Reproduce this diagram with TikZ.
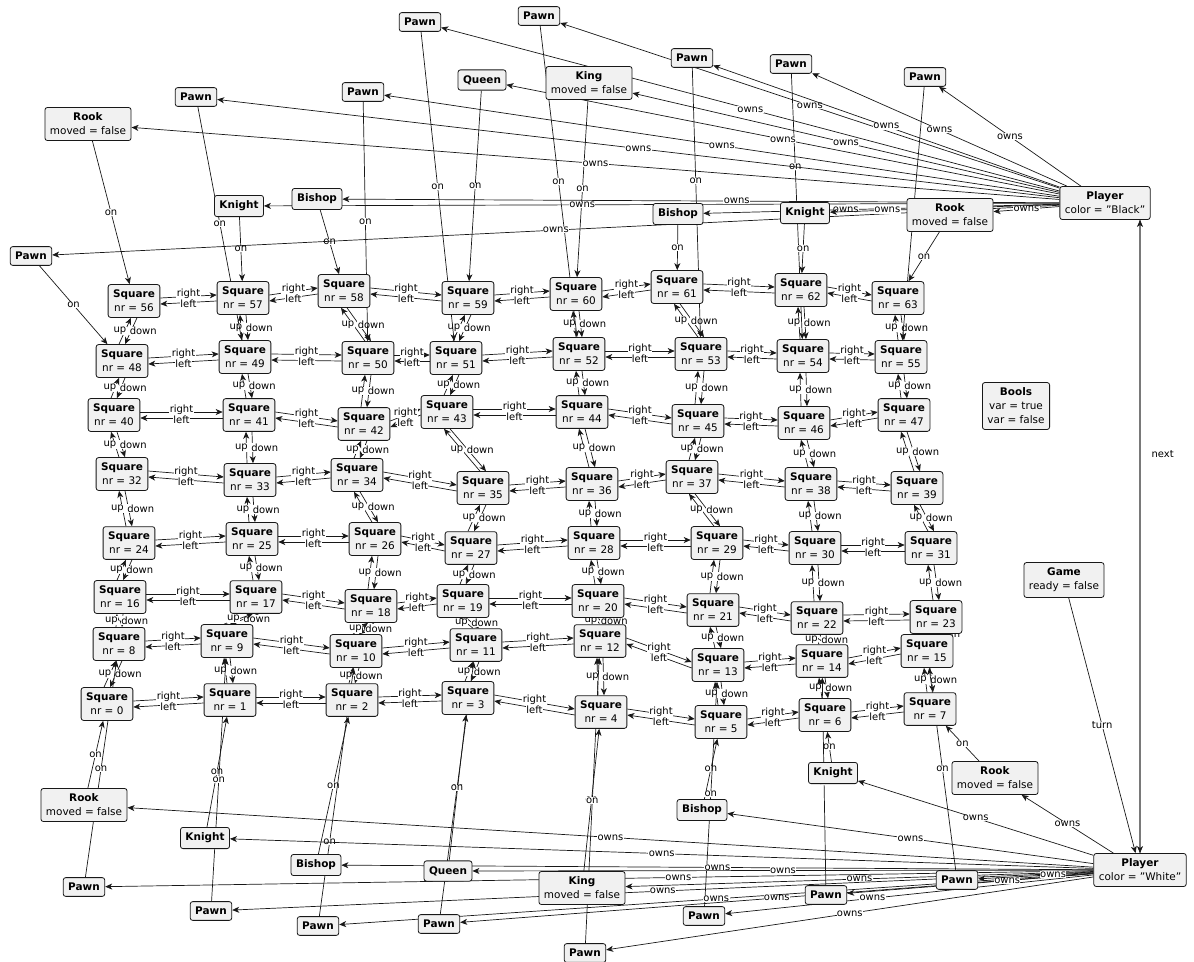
\documentclass[tikz,border=0pt]{standalone}
\usepackage{fontspec}
\setmainfont{DejaVu Sans}
\usetikzlibrary{arrows.meta}

\pgfdeclarelayer{bg}
\pgfsetlayers{bg,main}

\definecolor{boxfill}{HTML}{F1F1F1}
\definecolor{boxline}{HTML}{181818}

\tikzset{
    obj/.style={draw=boxline, fill=boxfill, rounded corners=2.5bp, align=center,
        inner xsep=5bp, inner ysep=5.5bp, line width=0.8bp,
        font=\fontsize{10.5}{14}\selectfont},
    link/.style={draw=boxline, line width=0.7bp, -{Stealth[length=7bp,width=6bp,inset=2bp]}},
    lbl/.style={fill=white, inner sep=0.4bp, font=\fontsize{10}{10}\selectfont},
}

\begin{document}
\begin{tikzpicture}[x=1bp, y=-1bp]
    \useasboundingbox (0,0) rectangle (1194,962);

    % Draw squares
    \foreach \n/\x/\y in {0/107/704, 1/230/700, 2/352/700, 3/468/698, 4/601/712, 5/721/722, 6/825/715, 7/930/709,
        8/119/644, 9/227/641, 10/356/651, 11/476/645, 12/600/641, 13/718/665, 14/822/661, 15/927/651,
        16/120/597, 17/256/597, 18/371/606, 19/463/601, 20/598/601, 21/713/610, 22/817/618, 23/936/617,
        24/129/543, 25/252/539, 26/375/539, 27/471/548, 28/594/543, 29/717/543, 30/815/548, 31/931/548,
        32/122/474, 33/250/480, 34/357/475, 35/483/488, 36/592/484, 37/692/477, 38/811/484, 39/917/488,
        40/114/415, 41/249/415, 42/364/424, 43/447/412, 44/582/412, 45/698/421, 46/804/423, 47/904/415,
        48/122/361, 49/245/357, 50/368/358, 51/456/358, 52/579/354, 53/701/354, 54/803/356, 55/901/357,
        56/134/301, 57/243/298, 58/344/291, 59/468/298, 60/576/294, 61/677/287, 62/801/290, 63/898/298}
        \node[obj] (s\n) at (\x,\y) {\textbf{Square}\\nr = \n};

    % Draw black pieces
    \node[obj] (p56) at (88,124) {\textbf{Rook}\\moved = false};
    \node[obj] (p57) at (239,206) {\textbf{Knight}};
    \node[obj] (p58) at (317,199) {\textbf{Bishop}};
    \node[obj] (p59) at (482,80) {\textbf{Queen}};
    \node[obj] (p60) at (589,83) {\textbf{King}\\moved = false};
    \node[obj] (p61) at (678,214) {\textbf{Bishop}};
    \node[obj] (p62) at (805,213) {\textbf{Knight}};
    \node[obj] (p63) at (950,215) {\textbf{Rook}\\moved = false};
    \foreach \n/\x/\y in {48/31/256, 49/196/97, 50/363/92, 51/420/22, 52/539/16, 53/692/58, 54/791/64, 55/925/77}
        \node[obj] (p\n) at (\x,\y) {\textbf{Pawn}};

    % Draw white pieces
    \node[obj] (p0) at (84,805) {\textbf{Rook}\\moved = false};
    \node[obj] (p1) at (205,838) {\textbf{Knight}};
    \node[obj] (p2) at (316,865) {\textbf{Bishop}};
    \node[obj] (p3) at (448,871) {\textbf{Queen}};
    \node[obj] (p4) at (582,888) {\textbf{King}\\moved = false};
    \node[obj] (p5) at (702,810) {\textbf{Bishop}};
    \node[obj] (p6) at (833,773) {\textbf{Knight}};
    \node[obj] (p7) at (995,778) {\textbf{Rook}\\moved = false};
    \foreach \n/\x/\y in {8/84/887, 9/211/911, 10/318/926, 11/439/924, 12/585/953, 13/704/916, 14/826/895, 15/957/880}
        \node[obj] (p\n) at (\x,\y) {\textbf{Pawn}};

    % Players and game
    \node[obj] (pb) at (1105,203) {\textbf{Player}\\color = \symbol{34}Black\symbol{34}};
    \node[obj] (pw) at (1140,870) {\textbf{Player}\\color = \symbol{34}White\symbol{34}};
    \node[obj] (game) at (1064,580) {\textbf{Game}\\ready = false};
    \node[obj] (bools) at (1016,406) {\textbf{Bools}\\var = true\\var = false};

    \begin{pgfonlayer}{bg}
    % Draw connections: right / left
    \foreach \r in {0,8,...,56}
        \foreach \c in {0,...,6} {
            \pgfmathtruncatemacro\a{\r+\c}
            \pgfmathtruncatemacro\b{\r+\c+1}
            \draw[link] ([yshift=-3bp]s\b.west) -- node[lbl, below=-3bp] {left} ([yshift=-3bp]s\a.east);
            \draw[link] ([yshift=3bp]s\a.east) -- node[lbl, above=-3bp] {right} ([yshift=3bp]s\b.west);
        }
    % up / down
    \foreach \a in {0,...,55} {
        \pgfmathtruncatemacro\b{\a+8}
        \draw[link] ([xshift=3bp]s\b.south) -- node[lbl, right=-2bp] {down} ([xshift=3bp]s\a.north);
        \draw[link] ([xshift=-3bp]s\a.north) -- node[lbl, left=-2bp] {up} ([xshift=-3bp]s\b.south);
    }
    % pieces on squares
    \foreach \n/\ps in {0/0.5, 1/0.5, 2/0.5, 3/0.5, 4/0.5, 5/0.5, 6/0.5, 7/0.5,
        8/0.5, 9/0.5, 10/0.3, 11/0.5, 12/0.5, 13/0.5, 14/0.5, 15/0.5,
        48/0.5, 49/0.5, 50/0.5, 51/0.5, 52/0.5, 53/0.42, 54/0.35, 55/0.5,
        56/0.5, 57/0.5, 58/0.5, 59/0.5, 60/0.5, 61/0.5, 62/0.5, 63/0.5}
        \draw[link] (p\n) -- node[lbl, pos=\ps] {on} (s\n);
    % owners
    \foreach \n/\ps in {0/0.5, 1/0.5, 2/0.5, 3/0.5, 4/0.5, 5/0.5, 6/0.5, 7/0.5,
        8/0.42, 9/0.5, 10/0.5, 11/0.5, 12/0.5, 13/0.6, 14/0.35, 15/0.35}
        \draw[link] (pw) -- node[lbl, pos=\ps] {owns} (p\n);
    \foreach \n/\ps in {48/0.5, 49/0.5, 50/0.5, 51/0.5, 52/0.5, 53/0.5, 54/0.5, 55/0.5,
        56/0.5, 57/0.6, 58/0.45, 59/0.5, 60/0.5, 61/0.6, 62/0.75, 63/0.5}
        \draw[link] (pb) -- node[lbl, pos=\ps] {owns} (p\n);
    % turns
    \draw[link] ([xshift=35bp]pb.south) -- (pw.north);
    \draw[link] (pw.north) -- node[pos=0.63, right=8bp, font=\fontsize{10}{10}\selectfont] {next} ([xshift=35bp]pb.south);
    \draw[link] (game) -- node[lbl] {turn} (pw);
    \end{pgfonlayer}
\end{tikzpicture}
\end{document}
